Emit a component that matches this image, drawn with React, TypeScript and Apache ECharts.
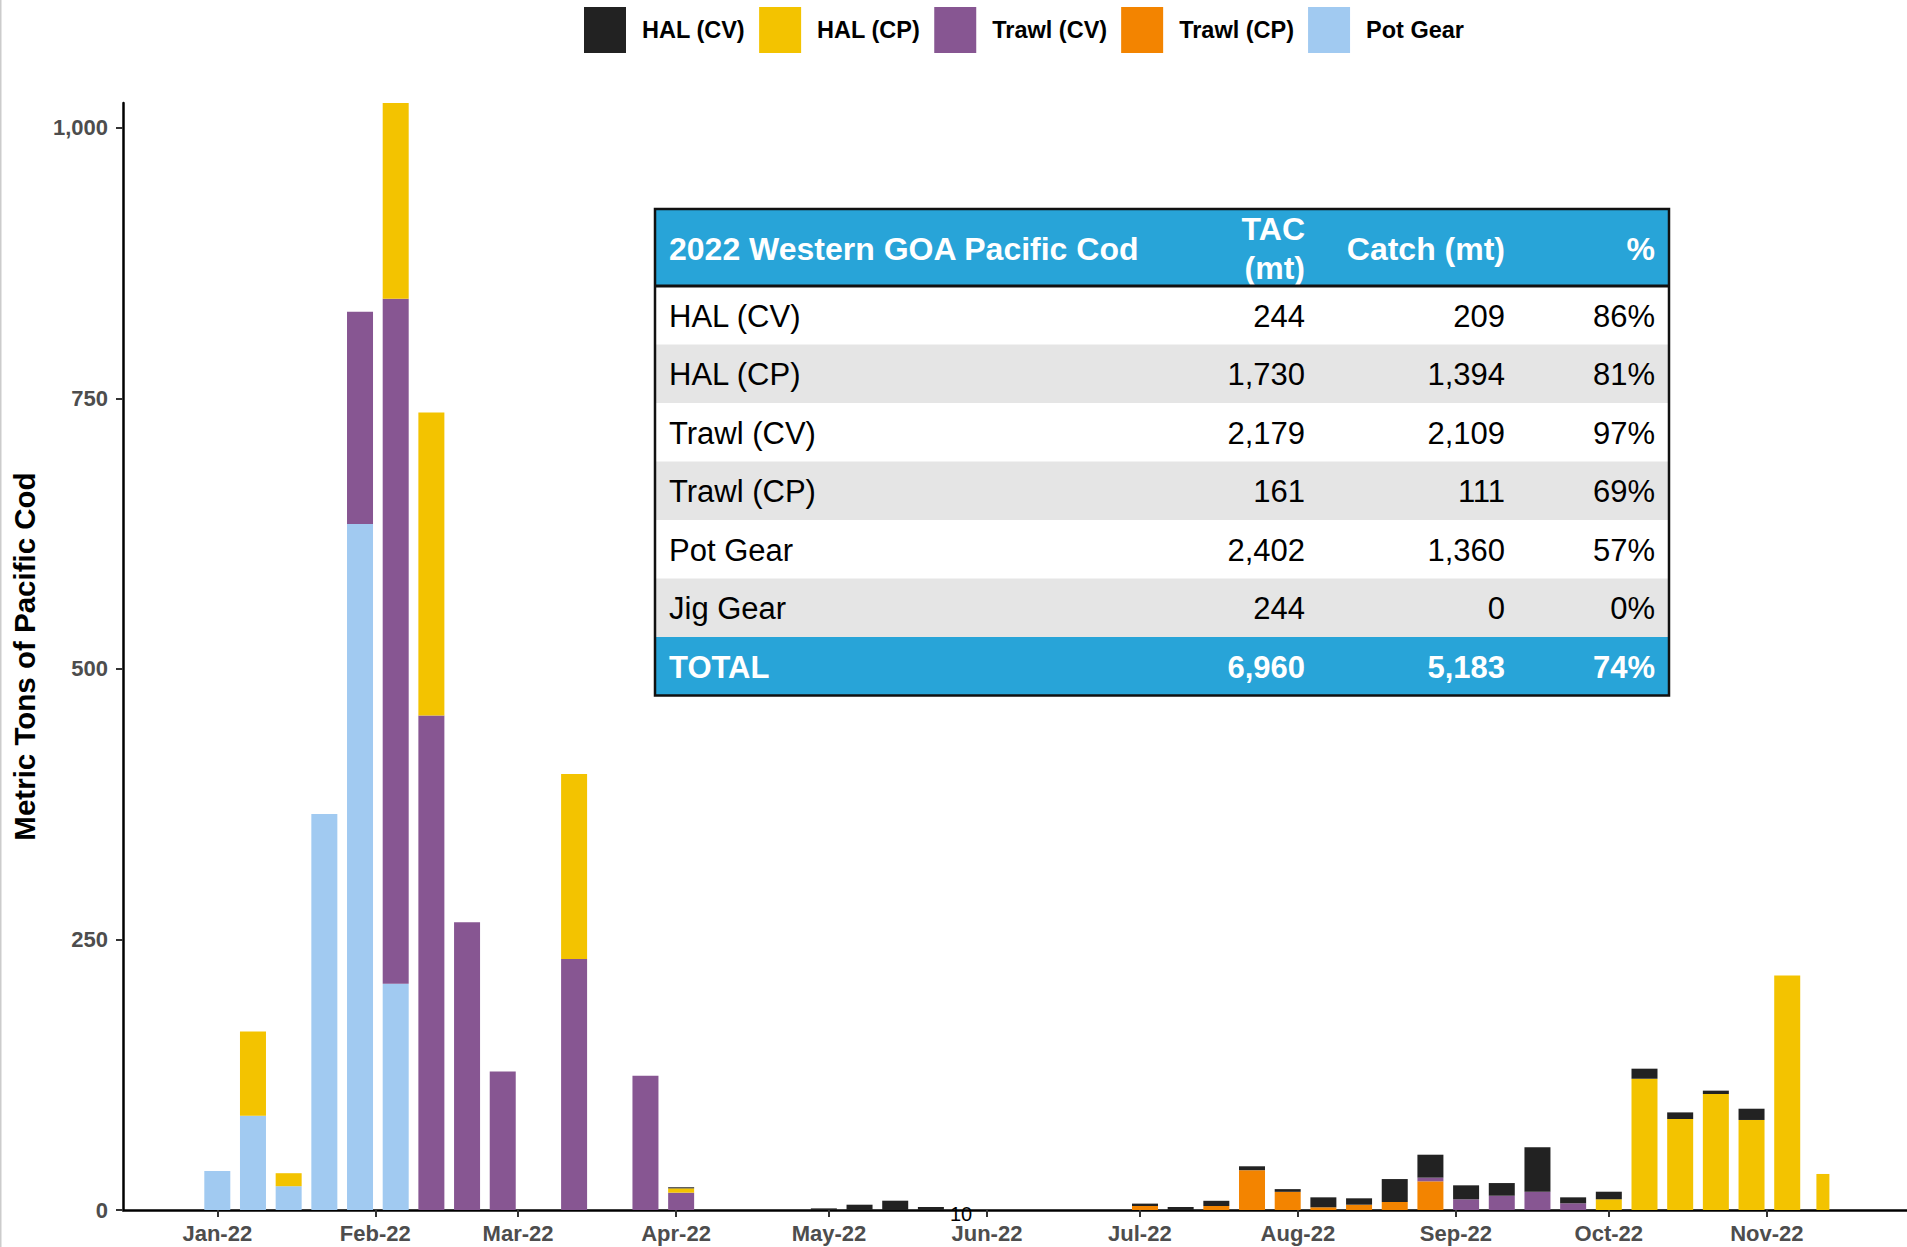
import React, { useEffect, useRef } from 'react';
import * as echarts from 'echarts';

// ---------- data ----------
const weekDates = [
  '2022-01-01', '2022-01-08', '2022-01-15', '2022-01-22', '2022-01-29',
  '2022-02-05', '2022-02-12', '2022-02-19', '2022-02-26', '2022-03-12',
  '2022-03-26', '2022-04-02', '2022-04-30', '2022-05-07', '2022-05-14',
  '2022-05-21', '2022-07-02', '2022-07-09', '2022-07-16', '2022-07-23',
  '2022-07-30', '2022-08-06', '2022-08-13', '2022-08-20', '2022-08-27',
  '2022-09-03', '2022-09-10', '2022-09-17', '2022-09-24', '2022-10-01',
  '2022-10-08', '2022-10-15', '2022-10-22', '2022-10-29', '2022-11-05',
];
const potGear = [36, 87, 22, 366, 634, 209, null, null, null, null, null, null, null, null, null, null, null, null, null, null, null, null, null, null, null, null, null, null, null, null, null, null, null, null, null];
const trawlCP = [null, null, null, null, null, null, null, null, null, null, null, null, null, null, null, null, 3.7, null, 3.7, 36.8, 16.8, 2.5, 4.9, 7.4, 26.5, null, null, null, null, null, null, null, null, null, null];
const trawlCV = [null, null, null, null, 196, 633, 457, 266, 128, 232, 124, 16, null, null, null, null, null, null, null, null, null, null, null, null, 3.4, 9.9, 13.2, 16.9, 6.2, null, null, null, null, null, null];
const halCP = [null, 78, 12, null, null, 181, 280, null, null, 171, null, 4, null, null, null, null, null, null, null, null, null, null, null, null, null, null, null, null, null, 9.9, 121.3, 84.1, 107.2, 83.2, 216.8];
const halCV = [null, null, null, null, null, null, null, null, null, null, null, 1, 1.5, 4.9, 8.6, 2.8, 2.2, 2.8, 4.8, 3.6, 2.5, 9.2, 5.9, 21.2, 21.2, 12.9, 11.7, 41, 5.5, 7, 9.3, 6.1, 3.1, 10.4, null];
// last, partial week (drawn narrower)
const partialDates = ['2022-11-12'];
const partialHalCP = [33.3];

const seriesNames = ['HAL (CV)', 'HAL (CP)', 'Trawl (CV)', 'Trawl (CP)', 'Pot Gear'];
const seriesColors = ['#222222', '#F3C300', '#875692', '#F38400', '#A1CAF1'];

// axis range (one category per day)
const axisStart = '2021-12-14';
const axisEnd = '2022-11-28';
const monthStarts = ['2022-01-01', '2022-02-01', '2022-03-01', '2022-04-01', '2022-05-01', '2022-06-01', '2022-07-01', '2022-08-01', '2022-09-01', '2022-10-01', '2022-11-01'];
const monthLabels = ['Jan-22', 'Feb-22', 'Mar-22', 'Apr-22', 'May-22', 'Jun-22', 'Jul-22', 'Aug-22', 'Sep-22', 'Oct-22', 'Nov-22'];
const yTicks = [0, 250, 500, 750, 1000];

const tableHeader = ['2022 Western GOA Pacific Cod', 'TAC\n(mt)', 'Catch (mt)', '%'];
const tableGear = ['HAL (CV)', 'HAL (CP)', 'Trawl (CV)', 'Trawl (CP)', 'Pot Gear', 'Jig Gear'];
const tableTAC = ['244', '1,730', '2,179', '161', '2,402', '244'];
const tableCatch = ['209', '1,394', '2,109', '111', '1,360', '0'];
const tablePct = ['86%', '81%', '97%', '69%', '57%', '0%'];
const tableTotal = ['TOTAL', '6,960', '5,183', '74%'];

const strayLabel = '10';

// ---------- helpers ----------
const FONT = 'Liberation Sans, Arial, Helvetica, sans-serif';
const pad = (n: number) => (n < 10 ? '0' + n : '' + n);
function dayList(from: string, to: string) {
  const out: string[] = [];
  const d = new Date(from + 'T12:00:00Z');
  const end = new Date(to + 'T12:00:00Z').getTime();
  while (d.getTime() <= end) {
    out.push(`${d.getUTCFullYear()}-${pad(d.getUTCMonth() + 1)}-${pad(d.getUTCDate())}`);
    d.setUTCDate(d.getUTCDate() + 1);
  }
  return out;
}

function buildTable() {
  const left = 655, right = 1669, top = 209, headerH = 77, rowH = 58.5;
  const colX = [669, 1305, 1505, 1655];
  const blue = '#28A4D8';
  const els: any[] = [];
  const width = right - left;
  els.push({ type: 'rect', shape: { x: left, y: top, width, height: headerH }, style: { fill: blue } });
  tableGear.forEach((_, i) => {
    els.push({ type: 'rect', shape: { x: left, y: top + headerH + i * rowH, width, height: rowH }, style: { fill: i % 2 === 1 ? '#E5E5E5' : '#FFFFFF' } });
  });
  const totalTop = top + headerH + tableGear.length * rowH;
  els.push({ type: 'rect', shape: { x: left, y: totalTop, width, height: rowH }, style: { fill: blue } });
  const bottom = totalTop + rowH;
  const hy = top + headerH / 2 + 1;
  tableHeader.forEach((t, j) => {
    els.push({
      type: 'text',
      style: {
        text: t, x: colX[j], y: hy, fill: '#FFFFFF',
        font: `bold 32px ${FONT}`, lineHeight: 39,
        align: j === 0 ? 'left' : 'right', textAlign: j === 0 ? 'left' : 'right',
        verticalAlign: 'middle', textVerticalAlign: 'middle',
      },
    });
  });
  tableGear.forEach((g, i) => {
    const cy = top + headerH + i * rowH + rowH / 2 + 1;
    [g, tableTAC[i], tableCatch[i], tablePct[i]].forEach((t, j) => {
      els.push({
        type: 'text',
        style: {
          text: t, x: colX[j], y: cy, fill: '#000000', font: `31px ${FONT}`,
          align: j === 0 ? 'left' : 'right', textAlign: j === 0 ? 'left' : 'right',
          verticalAlign: 'middle', textVerticalAlign: 'middle',
        },
      });
    });
  });
  const ty = totalTop + rowH / 2 + 1;
  tableTotal.forEach((t, j) => {
    els.push({
      type: 'text',
      style: {
        text: t, x: colX[j], y: ty, fill: '#FFFFFF', font: `bold 31px ${FONT}`,
        align: j === 0 ? 'left' : 'right', textAlign: j === 0 ? 'left' : 'right',
        verticalAlign: 'middle', textVerticalAlign: 'middle',
      },
    });
  });
  els.push({ type: 'line', shape: { x1: left, y1: top + headerH, x2: right, y2: top + headerH }, style: { stroke: '#111', lineWidth: 3 } });
  els.push({ type: 'rect', shape: { x: left, y: top, width, height: bottom - top }, style: { fill: 'none', stroke: '#111', lineWidth: 2.5 } });
  return els;
}

export default function App() {
  const ref = useRef<HTMLDivElement>(null);
  useEffect(() => {
    document.body.style.margin = '0';
    if (!ref.current) return;
    const chart = echarts.init(ref.current, undefined, { renderer: 'svg' });
    const days = dayList(axisStart, axisEnd);
    const seriesData = [potGear, trawlCP, trawlCV, halCP, halCV];
    const stackNames = ['Pot Gear', 'Trawl (CP)', 'Trawl (CV)', 'HAL (CP)', 'HAL (CV)'];
    const colorOf = (n: string) => seriesColors[seriesNames.indexOf(n)];
    const toDaily = (dates: string[], vals: (number | null)[]) => {
      const arr: (number | null)[] = days.map(() => null);
      dates.forEach((d, i) => {
        const k = days.indexOf(d);
        if (k >= 0) arr[k] = vals[i];
      });
      return arr;
    };
    const isMonthStart = (_i: number, v: string) => monthStarts.indexOf(v) >= 0;
    const series: any[] = stackNames.map((n, k) => ({
      name: n,
      type: 'bar',
      stack: 'catch',
      barWidth: 26,
      itemStyle: { color: colorOf(n) },
      data: toDaily(weekDates, seriesData[k]),
    }));
    series.push({
      name: 'HAL (CP)',
      type: 'bar',
      stack: 'partial',
      xAxisIndex: 1,
      barWidth: 13,
      itemStyle: { color: colorOf('HAL (CP)') },
      data: toDaily(partialDates, partialHalCP),
    });
    chart.setOption({
      animation: false,
      backgroundColor: '#FFFFFF',
      textStyle: { fontFamily: FONT },
      legend: {
        data: seriesNames,
        left: 579,
        top: 2,
        itemWidth: 42,
        itemHeight: 46,
        itemGap: 14,
        icon: 'rect',
        selectedMode: false,
        textStyle: { fontSize: 23.5, fontWeight: 'bold', color: '#000000', fontFamily: FONT, padding: [0, 0, 0, 11] },
      },
      grid: { left: 123, right: 0, top: 103, bottom: 37, containLabel: false },
      xAxis: [
        {
          type: 'category',
          data: days,
          boundaryGap: true,
          axisLine: { show: true, lineStyle: { color: '#000000', width: 2.5 } },
          axisTick: { show: true, alignWithLabel: true, interval: isMonthStart, length: 7, lineStyle: { color: '#333333', width: 2 } },
          axisLabel: {
            interval: isMonthStart,
            margin: 12,
            fontSize: 22,
            fontWeight: 'bold',
            color: '#4D4D4D',
            fontFamily: FONT,
            formatter: (v: string) => {
              const i = monthStarts.indexOf(v);
              return i >= 0 ? monthLabels[i] : '';
            },
          },
          splitLine: { show: false },
        },
        { type: 'category', data: days, boundaryGap: true, show: false },
      ],
      yAxis: {
        type: 'value',
        min: 0,
        max: 1023,
        interval: 250,
        name: 'Metric Tons of Pacific Cod',
        nameLocation: 'middle',
        nameGap: 84,
        nameTextStyle: { fontSize: 29.5, fontWeight: 'bold', color: '#000000', fontFamily: FONT },
        axisLine: { show: true, lineStyle: { color: '#000000', width: 2.5 } },
        axisTick: { show: true, length: 7, lineStyle: { color: '#333333', width: 2 }, customValues: yTicks },
        axisLabel: {
          customValues: yTicks,
          margin: 15,
          fontSize: 22,
          fontWeight: 'bold',
          color: '#4D4D4D',
          fontFamily: FONT,
          formatter: (v: number) => v.toLocaleString('en-US'),
        },
        splitLine: { show: false },
      },
      series,
      graphic: [
        { type: 'rect', shape: { x: 0, y: 0, width: 1.5, height: 1247 }, style: { fill: '#CCCCCC' } },
        {
          type: 'text',
          style: {
            text: strayLabel, x: 961, y: 1214, fill: '#000000', font: `20px ${FONT}`,
            align: 'center', textAlign: 'center', verticalAlign: 'middle', textVerticalAlign: 'middle',
          },
          z: 100,
        },
        ...buildTable(),
      ],
    });
    return () => chart.dispose();
  }, []);
  return <div ref={ref} style={{ width: 1907, height: 1247 }} />;
}
